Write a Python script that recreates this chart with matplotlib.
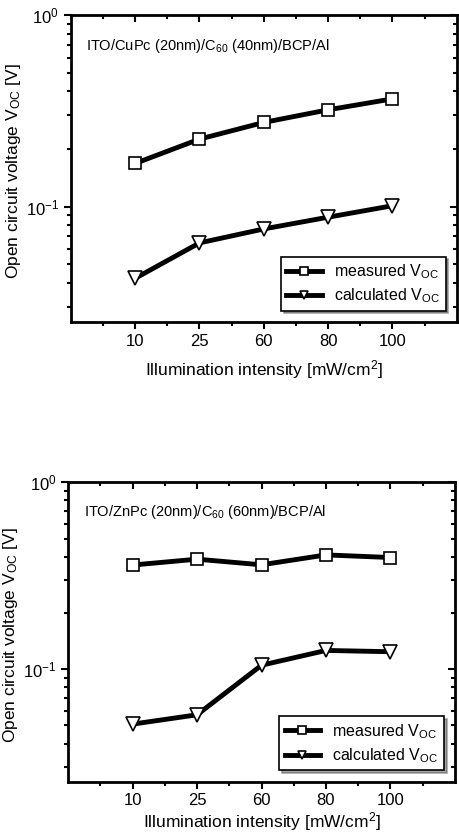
import matplotlib
matplotlib.use("Agg")
import matplotlib.pyplot as plt
from matplotlib.ticker import LogLocator, NullFormatter, FixedLocator

intensity = ["10", "25", "60", "80", "100"]

# top panel: ITO/CuPc/C60
cupc_measured = [0.168, 0.225, 0.275, 0.32, 0.365]
cupc_calculated = [0.0422, 0.0646, 0.0764, 0.088, 0.101]

# bottom panel: ITO/ZnPc/C60
znpc_measured = [0.361, 0.388, 0.362, 0.409, 0.396]
znpc_calculated = [0.0508, 0.057, 0.105, 0.126, 0.124]

labels = [r"ITO/CuPc (20nm)/C$_{60}$ (40nm)/BCP/Al",
          r"ITO/ZnPc (20nm)/C$_{60}$ (60nm)/BCP/Al"]
ytick_vals = [0.1, 1.0]
ytick_text = [r"10$^{-1}$", r"10$^{0}$"]

plt.rcParams['font.family'] = ['Liberation Sans', 'DejaVu Sans']
plt.rcParams['mathtext.fontset'] = 'custom'
plt.rcParams['mathtext.rm'] = 'Liberation Sans'
plt.rcParams['mathtext.it'] = 'Liberation Sans'

fig = plt.figure(figsize=(4.6, 8.36), dpi=100)
axes = [fig.add_axes([0.154, 0.615, 0.839, 0.367]),
        fig.add_axes([0.148, 0.065, 0.841, 0.358])]
pads = [7, 1]

data = [(cupc_measured, cupc_calculated), (znpc_measured, znpc_calculated)]

for ax, (meas, calc), lab, pad in zip(axes, data, labels, pads):
    x = list(range(1, len(intensity) + 1))
    ax.plot(x, meas, color='black', lw=3.5, marker='s', ms=9,
            mfc='white', mec='black', mew=1.2, label=r"measured V$_{\rm OC}$")
    ax.plot(x, calc, color='black', lw=3.5, marker='v', ms=10,
            mfc='white', mec='black', mew=1.2, label=r"calculated V$_{\rm OC}$")
    ax.set_yscale('log')
    ax.set_ylim(0.025, 1.0)
    ax.set_xlim(0, 6)
    ax.set_xticks(x)
    ax.set_xticklabels(intensity)
    ax.xaxis.set_minor_locator(FixedLocator([0.5 + i for i in range(6)]))
    ax.set_yticks(ytick_vals)
    ax.set_yticklabels(ytick_text)
    ax.yaxis.set_minor_locator(LogLocator(base=10, subs=range(2, 10), numticks=10))
    ax.yaxis.set_minor_formatter(NullFormatter())
    for s in ax.spines.values():
        s.set_linewidth(2)
    ax.tick_params(which='both', direction='out', width=1.5, labelsize=12)
    ax.tick_params(which='major', length=5)
    ax.tick_params(which='minor', length=3)

    top = ax.secondary_xaxis('top')
    top.set_xticks(x)
    top.xaxis.set_minor_locator(FixedLocator([0.5 + i for i in range(6)]))
    top.tick_params(which='both', direction='in', labeltop=False, width=1.5)
    top.tick_params(which='major', length=5)
    top.tick_params(which='minor', length=3)
    right = ax.secondary_yaxis('right')
    right.tick_params(which='both', direction='in', labelright=False, width=1.5)
    right.tick_params(which='major', length=5)
    right.tick_params(which='minor', length=3)

    ax.text(0.04, 0.93, lab, transform=ax.transAxes, fontsize=10.5, va='top')
    ax.set_xlabel(r"Illumination intensity [mW/cm$^2$]", fontsize=12.5, labelpad=pad)
    ax.set_ylabel(r"Open circuit voltage V$_{\rm OC}$ [V]", fontsize=12.5)
    ax.yaxis.set_label_coords(-0.125, 0.49)

    leg = ax.legend(loc='lower right', fontsize=11.5, frameon=True, fancybox=False,
                    shadow=True, handlelength=2.2, borderaxespad=0.7,
                    borderpad=0.35, labelspacing=0.35,
                    markerscale=0.6, edgecolor='black', framealpha=1)
    leg.get_frame().set_linewidth(1.2)

fig.savefig("out.png", dpi=100)
